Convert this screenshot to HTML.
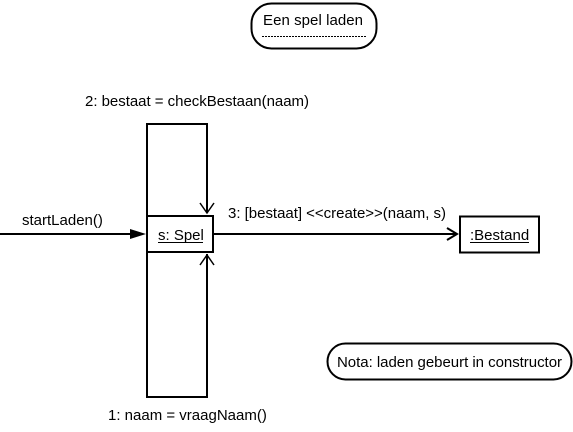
<!DOCTYPE html>
<html><head><style>
html,body{margin:0;padding:0;background:#fff;}
svg text{font-family:"Liberation Sans",Arial,sans-serif;font-size:15px;fill:#000;}
</style></head><body>
<svg width="573" height="427" viewBox="0 0 573 427" xmlns="http://www.w3.org/2000/svg">
<rect width="573" height="427" fill="#fff"/>
<rect x="251.5" y="3.5" width="125" height="45" rx="20" fill="none" stroke="#000" stroke-width="2"/>
<text x="263" y="25" textLength="100">Een spel laden</text>
<line x1="262" y1="36.5" x2="366" y2="36.5" stroke="#000" stroke-dasharray="2,1"/>
<text x="85" y="106" textLength="224">2: bestaat = checkBestaan(naam)</text>
<polyline points="207,213 207,124 147,124 147,215" fill="none" stroke="#000" stroke-width="2"/>
<polyline points="200,203 207,213 214,203" fill="none" stroke="#000" stroke-width="1.5"/>
<polyline points="207,254 207,397 147,397 147,252" fill="none" stroke="#000" stroke-width="2"/>
<polyline points="200,265 207,255 214,265" fill="none" stroke="#000" stroke-width="1.5"/>
<rect x="147" y="216" width="66" height="36" fill="#fff" stroke="#000" stroke-width="2"/>
<text x="158" y="240">s: Spel</text>
<line x1="158" y1="242.5" x2="203" y2="242.5" stroke="#000"/>
<text x="22" y="225">startLaden()</text>
<line x1="0" y1="234" x2="136" y2="234" stroke="#000" stroke-width="2"/>
<polygon points="146,234 130,229 130,239" fill="#000"/>
<text x="228" y="218" textLength="218">3: [bestaat] &lt;&lt;create&gt;&gt;(naam, s)</text>
<line x1="213" y1="234" x2="457" y2="234" stroke="#000" stroke-width="2"/>
<polyline points="447,228 457,234 447,240" fill="none" stroke="#000" stroke-width="2"/>
<rect x="460" y="216.5" width="79" height="36" fill="#fff" stroke="#000" stroke-width="2"/>
<text x="470" y="240">:Bestand</text>
<line x1="470" y1="242.5" x2="529" y2="242.5" stroke="#000"/>
<rect x="327.5" y="343.5" width="244" height="36" rx="18" fill="none" stroke="#000" stroke-width="2"/>
<text x="337" y="367" textLength="225">Nota: laden gebeurt in constructor</text>
<text x="108" y="420">1: naam = vraagNaam()</text>
</svg>
</body></html>
